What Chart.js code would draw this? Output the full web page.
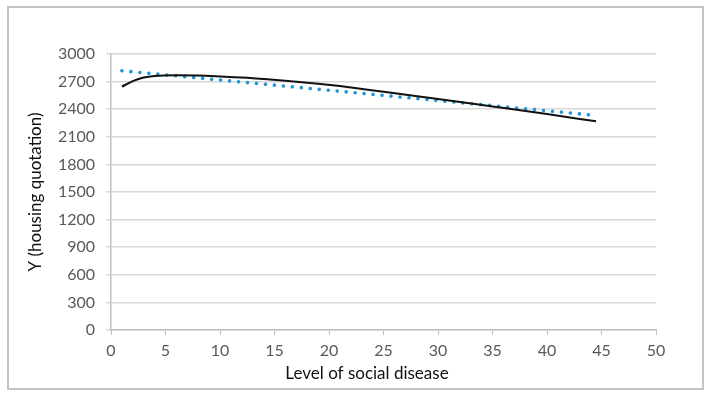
<!DOCTYPE html>
<html lang="en">
<head>
    <meta charset="UTF-8">
    <title>Housing quotation vs social disease</title>
    <script src="https://cdn.jsdelivr.net/npm/chart.js@4.4.0/dist/chart.umd.min.js"></script>
    <style>
        body { margin: 0; background: #fff; }
        .box { position: relative; width: 711px; height: 398px; }
        .frame { position: absolute; left: 7px; top: 6px; width: 697px; height: 384px; box-sizing: border-box; border: 2px solid #c4c4c4; pointer-events: none; }
    </style>
</head>
<body>
<div class="box">
    <canvas id="myChart" width="711" height="398"></canvas>
    <div class="frame"></div>
</div>
<script>
    // observed curve (black)
    const diseaseLevel = [1, 2, 3, 4, 6, 8, 10, 13, 16, 19, 21, 25, 30, 35, 40, 44.5];
    const housingQuote = [2645, 2705, 2745, 2762, 2768, 2765, 2755, 2737, 2710, 2677, 2651, 2590, 2512, 2430, 2347, 2268];
    // linear trendline (blue dotted)
    const trendX = [1, 43.8];
    const trendY = [2818, 2340];
    const xTicks = [0, 5, 10, 15, 20, 25, 30, 35, 40, 45, 50];
    const yTicks = [0, 300, 600, 900, 1200, 1500, 1800, 2100, 2400, 2700, 3000];

    const font = 'Lato, "Open Sans", sans-serif';

    // x axis title, Excel puts it a bit left of the centre
    const xTitle = {
        id: 'xTitle',
        afterDraw(chart) {
            const c = chart.ctx;
            c.save();
            c.font = '17px ' + font;
            c.fillStyle = '#111';
            c.textAlign = 'center';
            c.textBaseline = 'middle';
            c.fillText('Level of social disease', 367, 374);
            c.restore();
        }
    };

    const ctx = document.getElementById('myChart').getContext('2d');
    const myChart = new Chart(ctx, {
        type: 'scatter',
        data: {
            datasets: [{
                data: diseaseLevel.map((x, i) => ({ x: x, y: housingQuote[i] })),
                showLine: true,
                borderColor: '#111',
                borderWidth: 2,
                pointRadius: 0,
                cubicInterpolationMode: 'monotone'
            }, {
                data: trendX.map((x, i) => ({ x: x, y: trendY[i] })),
                showLine: true,
                borderColor: '#1e96d8',
                borderWidth: 3.6,
                borderDash: [0.01, 9],
                borderCapStyle: 'round',
                pointRadius: 0
            }]
        },
        options: {
            responsive: false,
            animation: false,
            events: [],
            layout: { padding: { left: 0, top: 54, right: 55, bottom: 0 } },
            plugins: { legend: { display: false }, tooltip: { enabled: false } },
            scales: {
                x: {
                    type: 'linear',
                    min: 0, max: 50,
                    afterBuildTicks: s => { s.ticks = xTicks.map(v => ({ value: v })); },
                    afterFit: s => { s.height = 68; },
                    grid: { drawOnChartArea: false, drawTicks: true, tickLength: 5, color: '#bfbfbf' },
                    border: { color: '#bfbfbf', width: 1.5 },
                    ticks: { color: '#595959', font: { family: font, size: 16 }, padding: 6, maxRotation: 0, callback: v => String(v) }
                },
                y: {
                    min: 0, max: 3000,
                    afterBuildTicks: s => { s.ticks = yTicks.map(v => ({ value: v })); },
                    afterFit: s => { s.width = 111; },
                    grid: { color: '#d9d9d9', lineWidth: 1.5, tickLength: 5 },
                    border: { color: '#bfbfbf', width: 1.5 },
                    ticks: { color: '#595959', font: { family: font, size: 16 }, padding: 11, callback: v => String(v) },
                    title: { display: true, text: 'Y (housing quotation)', color: '#111', font: { family: font, size: 17 }, padding: { top: 25 } }
                }
            }
        },
        plugins: [xTitle]
    });
</script>
</body>
</html>
